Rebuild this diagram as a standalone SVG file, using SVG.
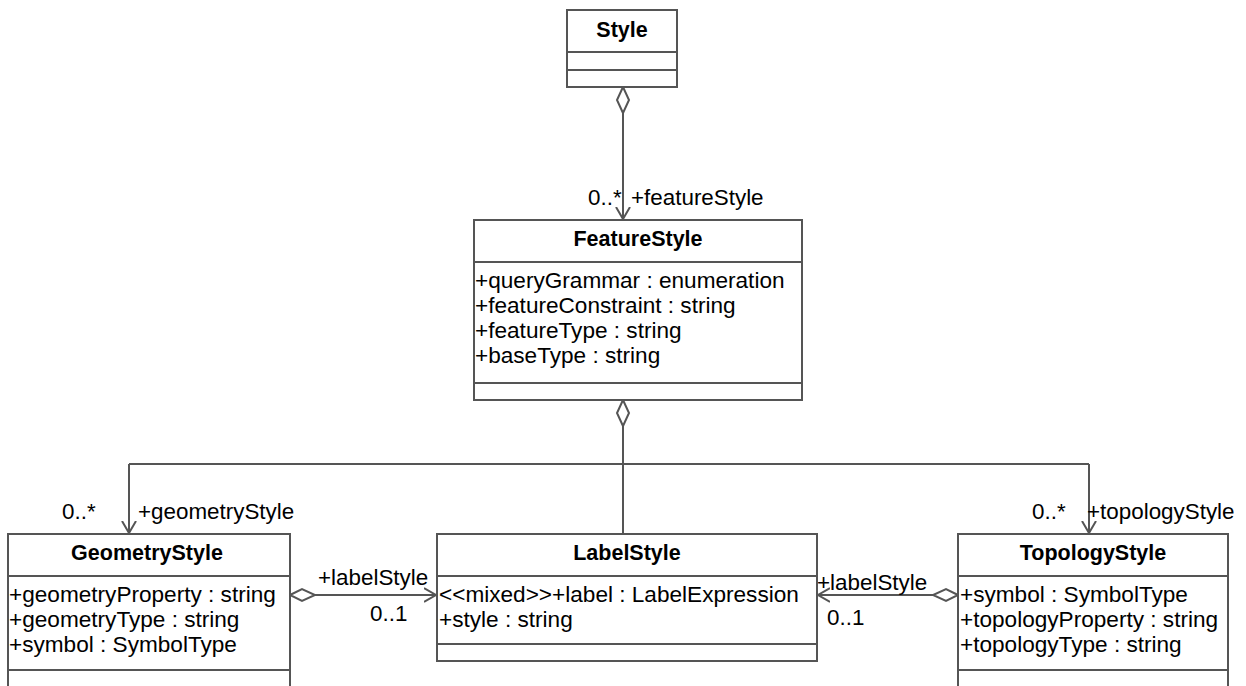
<svg xmlns="http://www.w3.org/2000/svg" width="1246" height="686" viewBox="0 0 1246 686">
<style>
  .box { fill: #ffffff; stroke: #555555; stroke-width: 2; }
  .div { stroke: #555555; stroke-width: 2; }
  .title { font-family: "Liberation Sans", Arial, sans-serif; font-size: 21.5px; font-weight: bold; text-anchor: middle; fill: #000; }
  .attr { font-family: "Liberation Sans", Arial, sans-serif; font-size: 22.6px; fill: #000; }
  .lbl { font-family: "Liberation Sans", Arial, sans-serif; font-size: 22.4px; fill: #000; }
  .line { fill: none; stroke: #555555; stroke-width: 2; }
  .dia { fill: #ffffff; stroke: #555555; stroke-width: 2; }
</style>
<defs>
  <marker id="open" markerWidth="14" markerHeight="16" refX="12" refY="8" orient="auto" markerUnits="userSpaceOnUse">
    <path d="M0,1 L12,8 L0,15" fill="none" stroke="#555555" stroke-width="2"/>
  </marker>
</defs>

<g id="connectors">
  <!-- Style -> FeatureStyle -->
  <path class="line" d="M623,113 L623,219" marker-end="url(#open)"/>
  <path class="dia" d="M623,87 L629,100 L623,113 L617,100 Z"/>
  <text class="lbl" x="588" y="205">0..*</text>
  <text class="lbl" x="631" y="205">+featureStyle</text>

  <!-- FeatureStyle -> children -->
  <path class="line" d="M623,426 L623,534"/>
  <path class="line" d="M129,464 L1089,464"/>
  <path class="line" d="M129,464 L129,533" marker-end="url(#open)"/>
  <path class="line" d="M1089,464 L1089,533" marker-end="url(#open)"/>
  <path class="dia" d="M623,400 L629,413 L623,426 L617,413 Z"/>
  <text class="lbl" x="62" y="519">0..*</text>
  <text class="lbl" x="138" y="519">+geometryStyle</text>
  <text class="lbl" x="1032" y="519">0..*</text>
  <text class="lbl" x="1087" y="519">+topologyStyle</text>

  <!-- GeometryStyle -> LabelStyle -->
  <path class="line" d="M315,595 L436,595" marker-end="url(#open)"/>
  <path class="dia" d="M290,595 L302,589 L315,595 L302,601 Z"/>
  <text class="lbl" x="318" y="585">+labelStyle</text>
  <text class="lbl" x="370" y="621">0..1</text>

  <!-- TopologyStyle -> LabelStyle -->
  <path class="line" d="M933,595 L818,595" marker-end="url(#open)"/>
  <path class="dia" d="M958,595 L946,589 L933,595 L946,601 Z"/>
  <text class="lbl" x="817" y="590">+labelStyle</text>
  <text class="lbl" x="827" y="625">0..1</text>
</g>

<g id="Style">
  <rect class="box" x="567" y="10" width="110" height="77"/>
  <line class="div" x1="567" y1="52" x2="677" y2="52"/>
  <line class="div" x1="567" y1="70" x2="677" y2="70"/>
  <text class="title" x="622" y="37">Style</text>
</g>

<g id="FeatureStyle">
  <rect class="box" x="474" y="220" width="328" height="180"/>
  <line class="div" x1="474" y1="262" x2="802" y2="262"/>
  <line class="div" x1="474" y1="383" x2="802" y2="383"/>
  <text class="title" x="638" y="246">FeatureStyle</text>
  <text class="attr" x="475" y="288">+queryGrammar : enumeration</text>
  <text class="attr" x="475" y="313">+featureConstraint : string</text>
  <text class="attr" x="475" y="338">+featureType : string</text>
  <text class="attr" x="475" y="363">+baseType : string</text>
</g>

<g id="GeometryStyle">
  <rect class="box" x="8" y="534" width="282" height="170"/>
  <line class="div" x1="8" y1="576" x2="290" y2="576"/>
  <line class="div" x1="8" y1="670" x2="290" y2="670"/>
  <text class="title" x="147" y="560">GeometryStyle</text>
  <text class="attr" x="9" y="602">+geometryProperty : string</text>
  <text class="attr" x="9" y="627">+geometryType : string</text>
  <text class="attr" x="9" y="652">+symbol : SymbolType</text>
</g>

<g id="LabelStyle">
  <rect class="box" x="437" y="534" width="380" height="127"/>
  <line class="div" x1="437" y1="576" x2="817" y2="576"/>
  <line class="div" x1="437" y1="644" x2="817" y2="644"/>
  <text class="title" x="627" y="560">LabelStyle</text>
  <text class="attr" x="439" y="602">&lt;&lt;mixed&gt;&gt;+label : LabelExpression</text>
  <text class="attr" x="439" y="627">+style : string</text>
</g>

<g id="TopologyStyle">
  <rect class="box" x="958" y="534" width="270" height="170"/>
  <line class="div" x1="958" y1="576" x2="1228" y2="576"/>
  <line class="div" x1="958" y1="670" x2="1228" y2="670"/>
  <text class="title" x="1093" y="560">TopologyStyle</text>
  <text class="attr" x="960" y="602">+symbol : SymbolType</text>
  <text class="attr" x="960" y="627">+topologyProperty : string</text>
  <text class="attr" x="960" y="652">+topologyType : string</text>
</g>
</svg>
